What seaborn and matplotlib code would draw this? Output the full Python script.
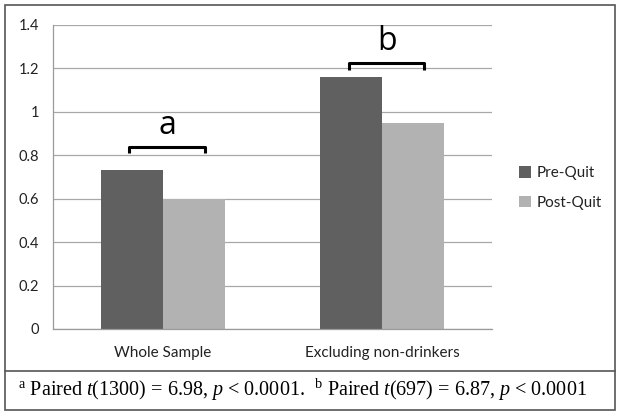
import matplotlib
matplotlib.use("Agg")
import matplotlib.pyplot as plt
from matplotlib.patches import Rectangle
from matplotlib.lines import Line2D
import seaborn as sns
import pandas as pd

################################# data #####################################

groups = ["Whole Sample", "Excluding non-drinkers"]
periods = ["Pre-Quit", "Post-Quit"]
pre_quit = [0.73, 1.16]
post_quit = [0.60, 0.95]
sig_letters = ["a", "b"]
bracket_levels = [0.84, 1.225]
y_ticks = [0, 0.2, 0.4, 0.6, 0.8, 1.0, 1.2, 1.4]
y_tick_labels = ["0", "0.2", "0.4", "0.6", "0.8", "1", "1.2", "1.4"]
footnote = (r"$^{\mathrm{a}}$ Paired $t$(1300) = 6.98, $p$ < 0.0001.  "
            r"$^{\mathrm{b}}$ Paired $t$(697) = 6.87, $p$ < 0.0001")

df = pd.DataFrame({
    "group": groups * 2,
    "period": [periods[0]] * 2 + [periods[1]] * 2,
    "value": pre_quit + post_quit,
})

################################# plot #####################################

sns.set_style("white")
plt.rcParams["font.family"] = ["Lato", "DejaVu Sans"]
plt.rcParams["mathtext.fontset"] = "custom"
plt.rcParams["mathtext.rm"] = "Liberation Serif"
plt.rcParams["mathtext.it"] = "Liberation Serif:italic"

fig = plt.figure(figsize=(6.21, 4.17), dpi=100)
ax = fig.add_axes([53 / 621, 1 - 329 / 417, (492 - 53) / 621, (329 - 25) / 417])

bar_width = 0.565
sns.barplot(data=df, x="group", y="value", hue="period", order=groups,
            hue_order=periods, palette=["#606060", "#b2b2b2"],
            width=bar_width, saturation=1, edgecolor="none", ax=ax,
            legend=True)

ax.set_xlim(-0.5, 1.5)
ax.set_ylim(0, 1.4)
ax.set_yticks(y_ticks)
ax.set_yticklabels(y_tick_labels)
ax.yaxis.grid(True, color="#a8a8a8", linewidth=0.9)
ax.set_axisbelow(True)
ax.set_xlabel("")
ax.set_ylabel("")
for side in ["top", "right"]:
    ax.spines[side].set_visible(False)
for side in ["left", "bottom"]:
    ax.spines[side].set_color("#9a9a9a")
    ax.spines[side].set_linewidth(0.9)
ax.tick_params(axis="y", length=4, color="#9a9a9a", labelsize=10.5,
               labelcolor="#222222", pad=6)
ax.tick_params(axis="x", which="major", length=0, labelsize=11,
               labelcolor="#222222", pad=12)
ax.set_xticks([-0.5, 0.5, 1.5], minor=True)
ax.tick_params(axis="x", which="minor", length=4, color="#9a9a9a")

# significance brackets above each pair
half = 0.172
for i, (letter, y0) in enumerate(zip(sig_letters, bracket_levels)):
    c = i + 0.02
    h = 0.03
    ax.plot([c - half, c - half, c + half, c + half],
            [y0 - h, y0, y0, y0 - h], color="black", linewidth=2.2,
            solid_capstyle="butt", clip_on=False)
    ax.text(c, y0 + 0.058, letter, ha="center", va="baseline", fontsize=23,
            family=["Open Sans", "DejaVu Sans"], color="black")

leg = ax.legend(title=None, frameon=False, loc="center left",
                bbox_to_anchor=(505 / 621, 1 - 188 / 417),
                bbox_transform=fig.transFigure, fontsize=11,
                handlelength=0.8, handleheight=0.8, handletextpad=0.4,
                labelspacing=1.0)
for t in leg.get_texts():
    t.set_color("#222222")

# outer frame and footnote divider
fig.patches.append(Rectangle((5 / 621, 1 - 410 / 417), 610 / 621, 405 / 417,
                             transform=fig.transFigure, fill=False,
                             edgecolor="#555555", linewidth=1.2))
fig.lines.append(Line2D([5 / 621, 615 / 621], [1 - 371 / 417, 1 - 371 / 417],
                        transform=fig.transFigure, color="#555555",
                        linewidth=1.2))
fig.text(18 / 621, 1 - 390 / 417, footnote, ha="left", va="center",
         fontsize=14.5, family="Liberation Serif", color="black")

plt.savefig("out.png", dpi=100)
